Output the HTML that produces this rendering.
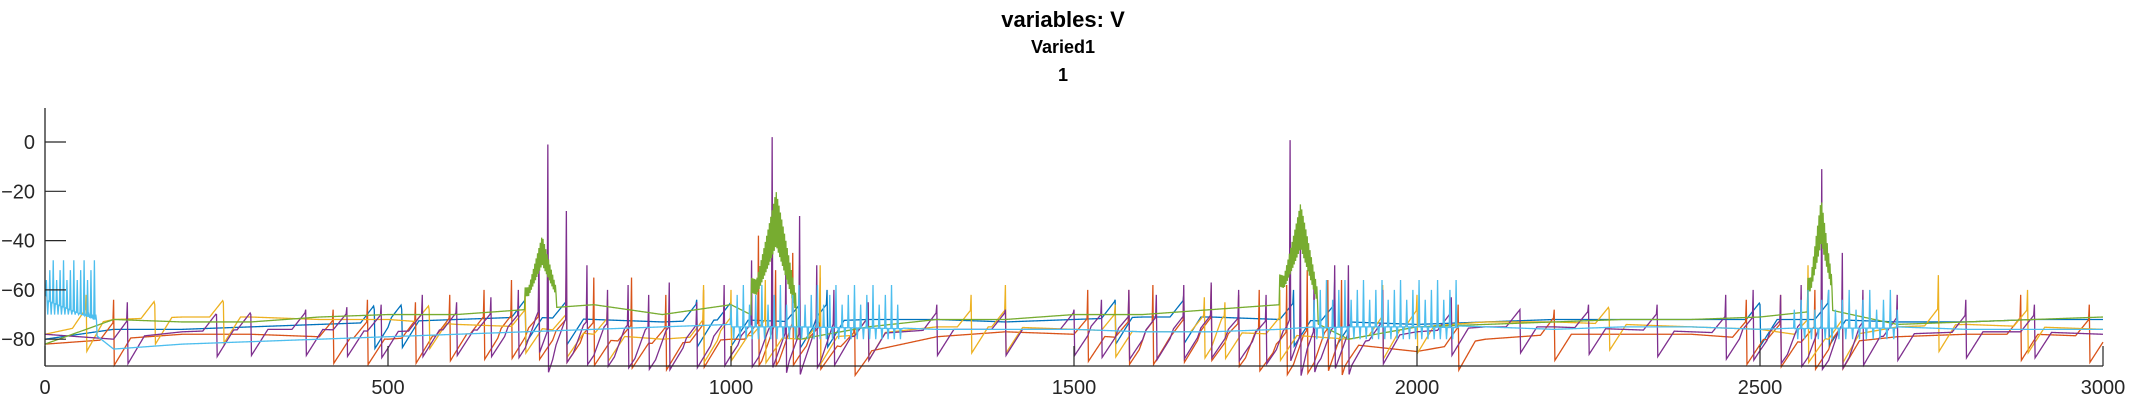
<!DOCTYPE html>
<html><head><meta charset="utf-8">
<style>
html,body{margin:0;padding:0;background:#fff;}
svg{display:block;}
text{font-family:"Liberation Sans",sans-serif;}
</style></head>
<body>
<svg id="chart" width="2133" height="400" viewBox="0 0 2133 400" xmlns="http://www.w3.org/2000/svg">
  <text x="1063" y="27" text-anchor="middle" font-size="22" font-weight="bold" fill="#000">variables: V</text>
  <text x="1063" y="53" text-anchor="middle" font-size="18" font-weight="bold" fill="#000">Varied1</text>
  <text x="1063" y="81" text-anchor="middle" font-size="18" font-weight="bold" fill="#000">1</text>
  <g id="series"></g>
  <g id="axes"></g>
</svg>
<script>
// ---- data ----
const xTicks = [0, 500, 1000, 1500, 2000, 2500, 3000];
const yTicks = [0, -20, -40, -60, -80];
const baseStep = 100;
const blueBase = [-80,-76,-76,-75,-74,-73,-72,-71,-72,-73,-72,-73,-72,-72,-73,-72,-71,-71,-72,-73,-74,-73,-72,-72,-72,-72,-72,-73,-73,-72,-72];
const orangeBase = [-82,-80,-78,-78,-79,-80,-78,-77,-80,-82,-80,-80,-85,-79,-77,-78,-80,-78,-84,-82,-85,-80,-78,-78,-78,-80,-82,-79,-78,-78,-79];
const yellowBase = [-78,-72,-71,-71,-72,-72,-74,-75,-78,-80,-78,-80,-78,-75,-75,-76,-77,-77,-78,-80,-75,-73,-73,-74,-75,-76,-80,-75,-74,-75,-76];
const purpleBase = [-78,-80,-77,-76,-76,-77,-76,-77,-80,-82,-80,-82,-78,-76,-76,-76,-78,-77,-80,-82,-77,-75,-75,-76,-77,-78,-82,-78,-77,-77,-78];
const greenBase = [-82,-72,-73,-73,-71,-70,-70,-68,-66,-70,-66,-80,-75,-72,-72,-70,-70,-68,-66,-80,-75,-74,-73,-72,-72,-71,-68,-74,-73,-72,-71];
const lightBase = [-62,-84,-82,-81,-80,-79,-78,-77,-76,-75,-74,-74,-75,-76,-76,-76,-77,-77,-76,-74,-74,-75,-76,-75,-75,-76,-75,-75,-76,-76,-76];

const purpleSpikeT = [120,250,300,380,440,490,550,600,650,690,720,733,760,790,820,850,880,910,950,990,1030,1060,1080,1100,1125,1150,1200,1300,1400,1500,1540,1580,1620,1660,1700,1740,1780,1815,1830,1850,1880,1900,1950,2050,2150,2250,2350,2450,2490,2530,2560,2590,2620,2650,2700,2800,2900];
const purpleSpikeV = [-65,-70,-70,-68,-67,-66,-62,-65,-63,-60,-48,-1,-28,-50,-60,-58,-62,-57,-65,-58,-48,2,-48,-30,-50,-60,-65,-66,-68,-68,-64,-60,-62,-58,-57,-60,-62,-1,-38,-55,-50,-50,-60,-63,-68,-66,-66,-62,-60,-62,-58,-11,-45,-60,-62,-64,-66];
const orangeSpikeT = [100,420,470,540,590,640,680,720,760,800,855,905,960,1040,1065,1090,1130,1180,1520,1580,1615,1660,1700,1740,1770,1810,1840,1870,1890,2060,2200,2480,2530,2580,2620,2880,2980];
const orangeSpikeV = [-64,-68,-64,-65,-62,-60,-56,-58,-46,-55,-55,-62,-60,-38,-52,-45,-55,-66,-60,-60,-58,-60,-58,-62,-60,-58,-52,-56,-56,-66,-68,-64,-62,-60,-64,-62,-66];
const yellowSpikeT = [60,160,260,560,700,760,820,960,1000,1050,1130,1200,1350,1400,1560,1690,1720,1800,1950,2000,2280,2570,2620,2760,2890];
const yellowSpikeV = [-62,-66,-65,-68,-60,-62,-64,-58,-60,-56,-50,-66,-62,-58,-66,-63,-65,-60,-58,-62,-68,-50,-64,-54,-60];
const blueSpikeT = [480,520,700,760,950,1000,1100,1140,1560,1660,1820,1880,2500,2600];
const blueSpikeV = [-68,-68,-65,-62,-64,-66,-50,-60,-64,-62,-60,-56,-66,-60];
const greenBurstStart = [700, 1030, 1800, 2570];
const greenBurstEnd = [745, 1095, 1855, 2605];
const greenBurstPeak = [-38, -20, -25, -23];
const lightBurstStart = [2, 1000, 1850, 2550];
const lightBurstEnd = [75, 1250, 2060, 2700];
const lightBurstPeak = [-56, -66, -64, -68];
const lightBurstLow = [-70, -80, -80, -80];
const lightBurstPeriod = [5, 9, 9, 10];

// ---- axes functions ----
const X0 = 45, X1 = 2103, YZERO = 142, YPER = 2.465;
const xAt = t => X0 + (t / 3000) * (X1 - X0);
const yAt = v => YZERO - v * YPER;
const NS = 'http://www.w3.org/2000/svg';

function baseAt(arr, t) {
  const i = Math.min(Math.floor(t / baseStep), arr.length - 2);
  const f = (t - i * baseStep) / baseStep;
  return arr[i] + (arr[i + 1] - arr[i]) * f;
}
function buildSeries(base, spT, spV) {
  const v = [];
  for (let t = 0; t <= 3000; t++) v.push(baseAt(base, t));
  if (spT) for (let k = 0; k < spT.length; k++) {
    const ts = spT[k];
    for (let d = -20; d < 0; d++) if (ts + d >= 0) v[ts + d] += 7 * (1 + d / 20);
    if (ts <= 3000) v[ts] = spV[k];
    for (let d = 1; d <= 25; d++) if (ts + d <= 3000) v[ts + d] -= 11 * (1 - d / 25);
  }
  return v;
}
function addGreenBursts(v) {
  for (let k = 0; k < greenBurstStart.length; k++) {
    const s = greenBurstStart[k], e = greenBurstEnd[k];
    for (let t = s; t <= e; t++) {
      const fr = (t - s) / (e - s);
      const env = Math.max(0.3, 1 - Math.abs(fr - 0.55) * 1.6);
      const b = v[t];
      const hi = b + (greenBurstPeak[k] - b) * env;
      v[t] = (t % 2 === 0) ? hi : b + (hi - b) * 0.6;
    }
  }
  return v;
}
function addLightBursts(v) {
  for (let k = 0; k < lightBurstStart.length; k++) {
    const s = lightBurstStart[k], e = lightBurstEnd[k], P = lightBurstPeriod[k];
    for (let t = s; t <= e; t++) {
      const ph = (t - s) % P;
      const n = Math.floor((t - s) / P);
      const b = v[t];
      if (ph === 0) v[t] = lightBurstPeak[k] + (n % 3) * 4;
      else if (ph === Math.floor(P / 2)) v[t] = lightBurstLow[k];
      else v[t] = (b + lightBurstLow[k]) / 2 + 2;
    }
  }
  return v;
}
const seriesDefs = [
  {name:'series-blue', color:'#0072BD', v: buildSeries(blueBase, blueSpikeT, blueSpikeV)},
  {name:'series-orange', color:'#D95319', v: buildSeries(orangeBase, orangeSpikeT, orangeSpikeV)},
  {name:'series-yellow', color:'#EDB120', v: buildSeries(yellowBase, yellowSpikeT, yellowSpikeV)},
  {name:'series-purple', color:'#7E2F8E', v: buildSeries(purpleBase, purpleSpikeT, purpleSpikeV)},
  {name:'series-green', color:'#77AC30', v: addGreenBursts(buildSeries(greenBase))},
  {name:'series-light-blue', color:'#4DBEEE', v: addLightBursts(buildSeries(lightBase))}
];
const g = document.getElementById('series');
seriesDefs.forEach(s => {
  let d = '';
  s.v.forEach((val, t) => { d += (t ? 'L' : 'M') + xAt(t).toFixed(2) + ' ' + yAt(val).toFixed(2); });
  const p = document.createElementNS(NS, 'path');
  p.setAttribute('d', d);
  p.setAttribute('fill', 'none');
  p.setAttribute('stroke', s.color);
  p.setAttribute('stroke-width', '1.3');
  
  
  g.appendChild(p);
});

// axes
const ax = document.getElementById('axes');
function mk(tag, attrs, txt) {
  const e = document.createElementNS(NS, tag);
  for (const k in attrs) e.setAttribute(k, attrs[k]);
  if (txt !== undefined) e.textContent = txt;
  ax.appendChild(e);
  return e;
}
const yl = mk('line', {x1:X0, y1:108, x2:X0, y2:366, stroke:'#262626', 'stroke-width':1.3});


const xl = mk('line', {x1:X0, y1:366, x2:X1, y2:366, stroke:'#262626', 'stroke-width':1.3});


yTicks.forEach(v => {
  const tk = mk('line', {x1:X0, y1:yAt(v), x2:X0 + 21, y2:yAt(v), stroke:'#262626', 'stroke-width':1.2});
  
  
  const lb = mk('text', {x:35, y:yAt(v) + 7, 'text-anchor':'end', 'font-size':20, fill:'#262626'}, v === 0 ? '0' : '\u2212' + Math.abs(v));
  
  
});
xTicks.forEach(t => {
  const tk = mk('line', {x1:xAt(t), y1:366, x2:xAt(t), y2:346, stroke:'#262626', 'stroke-width':1.2});
  
  
  const lb = mk('text', {x:xAt(t), y:394, 'text-anchor':'middle', 'font-size':20, fill:'#262626'}, String(t));
  
  
});
</script>
</body></html>
